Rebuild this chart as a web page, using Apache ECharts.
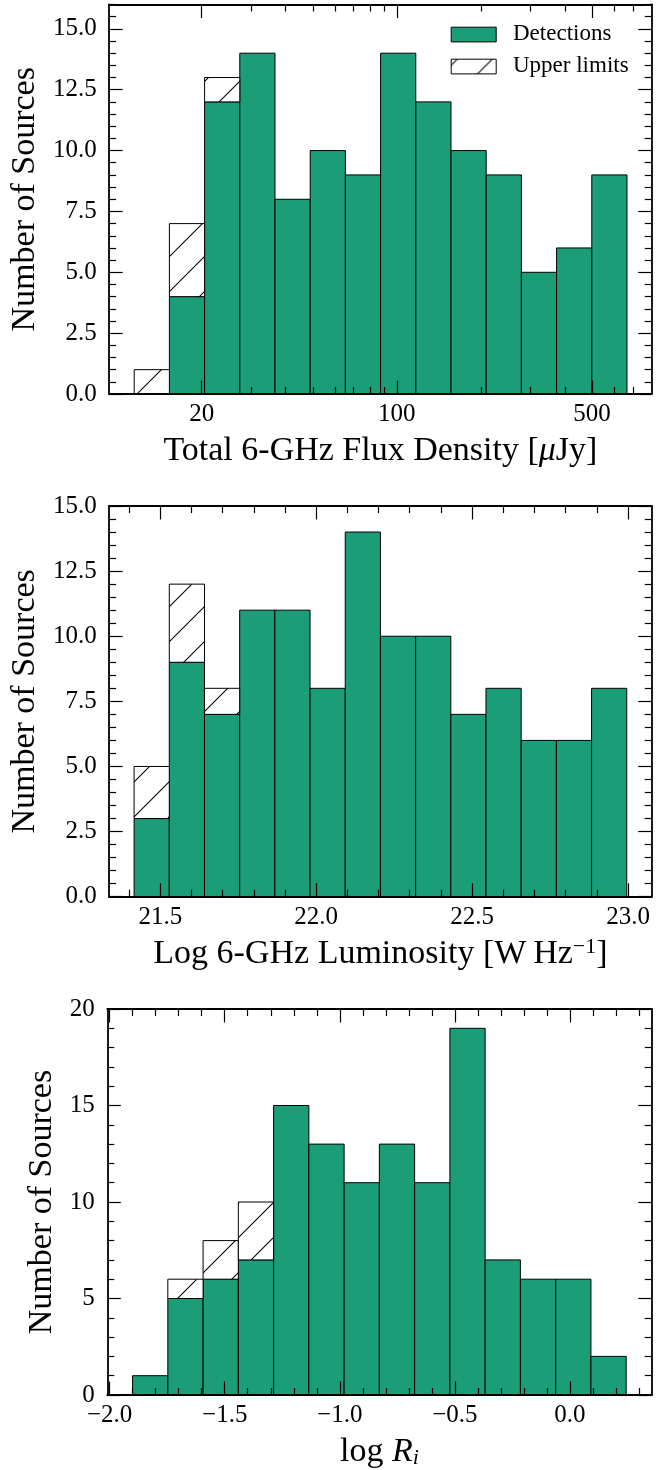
<!DOCTYPE html>
<html>
<head>
<meta charset="utf-8">
<script src="https://cdn.jsdelivr.net/npm/echarts@6/dist/echarts.min.js"></script>
<style>
  html, body { margin: 0; padding: 0; background: #ffffff; }
  #chart { width: 664px; height: 1470px; }
</style>
</head>
<body>
<div id="chart"></div>
<script>
// ---- Histogram counts (14 bins per panel) ----
const fluxDetections   = [0, 4, 12, 14, 8, 10, 9, 14, 12, 10, 9, 5, 6, 9];
const fluxUpperLimits  = [1, 3, 1, 0, 0, 0, 0, 0, 0, 0, 0, 0, 0, 0];
const fluxBinRange     = [11.47, 666.8];          // µJy, log-spaced bins

const lumDetections    = [3, 9, 7, 11, 11, 8, 14, 10, 10, 7, 8, 6, 6, 8];
const lumUpperLimits   = [2, 3, 1, 0, 0, 0, 0, 0, 0, 0, 0, 0, 0, 0];
const lumBinRange      = [21.416, 22.996];        // log W/Hz

const riDetections     = [1, 5, 6, 7, 15, 13, 11, 13, 11, 19, 7, 6, 6, 2];
const riUpperLimits    = [0, 1, 2, 3, 0, 0, 0, 0, 0, 0, 0, 0, 0, 0];
const riBinRange       = [-1.9006, 0.2448];       // log R_i

// ---- Tick labels ----
const fluxTickLabels   = [20, 100, 500];
const fluxMinorTicks   = [30, 40, 50, 60, 70, 80, 90, 200, 300, 400, 600, 700];
const lumTickLabels    = [21.5, 22.0, 22.5, 23.0];
const riTickLabels     = [-2.0, -1.5, -1.0, -0.5, 0.0];
const countTicksA      = [0, 2.5, 5, 7.5, 10, 12.5, 15];
const countTicksB      = [0, 5, 10, 15, 20];

const legendNames      = ['Detections', 'Upper limits'];

const GREEN = '#1b9e77';
const FONT = 'Liberation Serif';
const TICK_FS = 25;
const TITLE_FS = 34;

// "/" hatching tile
function makeHatch(size, phase) {
  const c = document.createElement('canvas');
  c.width = size; c.height = size;
  const g = c.getContext('2d');
  g.fillStyle = '#ffffff';
  g.fillRect(0, 0, size, size);
  g.strokeStyle = '#000000';
  g.lineWidth = 1.1;
  for (let k = -2; k <= 2; k++) {
    const s = phase + k * size;
    g.beginPath();
    g.moveTo(s + 2 * size, -2 * size);
    g.lineTo(s - 2 * size, 2 * size);
    g.stroke();
  }
  return c;
}
const hatchFill = { image: makeHatch(35, 6), repeat: 'repeat' };

function stepValues(from, to, step, exclude) {
  const out = [];
  const n = Math.round((to - from) / step);
  for (let i = 0; i <= n; i++) {
    const v = +(from + i * step).toFixed(6);
    if (!exclude.some(e => Math.abs(e - v) < 1e-6)) out.push(v);
  }
  return out;
}

function linEdges(range, n) {
  const w = (range[1] - range[0]) / n;
  return Array.from({ length: n + 1 }, (_, i) => range[0] + i * w);
}
const log10 = Math.log10;

const fmtMinus = v => (v < 0 ? '\u2212' : '') + Math.abs(v).toFixed(1);

// Panel definitions (x values in axis space; flux panel uses log10 space)
const panels = [
  {
    top: 4.5, height: 389.5,
    xMin: log10(9.33), xMax: log10(817.5),
    edges: linEdges([log10(fluxBinRange[0]), log10(fluxBinRange[1])], fluxDetections.length),
    det: fluxDetections, upp: fluxUpperLimits,
    xMajor: fluxTickLabels.map(log10),
    xMinor: fluxMinorTicks.map(log10),
    xFmt: v => String(Math.round(Math.pow(10, v))),
    yMax: 16, yMajor: countTicksA, yMinor: stepValues(0, 16, 0.5, countTicksA),
    yFmt: v => v.toFixed(1),
    xName: 'Total 6-GHz Flux Density [{it|\u03bc}Jy]',
    yNameGap: 60.5
  },
  {
    top: 506, height: 390.7,
    xMin: 21.336, xMax: 23.076,
    edges: linEdges(lumBinRange, lumDetections.length),
    det: lumDetections, upp: lumUpperLimits,
    xMajor: lumTickLabels,
    xMinor: stepValues(21.4, 23.0, 0.1, lumTickLabels),
    xFmt: v => v.toFixed(1),
    yMax: 15, yMajor: countTicksA, yMinor: stepValues(0, 15, 0.5, countTicksA),
    yFmt: v => v.toFixed(1),
    xName: 'Log 6-GHz Luminosity [W\u2009Hz{sup|\u22121}]',
    yNameGap: 60.5
  },
  {
    top: 1009, height: 389.7,
    xMin: -2.0104, xMax: 0.3557,
    edges: linEdges(riBinRange, riDetections.length),
    det: riDetections, upp: riUpperLimits,
    xMajor: riTickLabels,
    xMinor: stepValues(-2.0, 0.3, 0.1, riTickLabels),
    xFmt: fmtMinus,
    yMax: 20, yMajor: countTicksB, yMinor: stepValues(0, 20, 1, countTicksB),
    yFmt: v => String(Math.round(v)),
    xName: 'log {it|R}{sub|i}',
    yNameGap: 41.5
  }
];

const grids = [], xAxes = [], yAxes = [], series = [];
const tickLine = { color: '#000', width: 1.2 };
const spine = { show: true, onZero: false, lineStyle: { color: '#000', width: 1.8 } };
const noLine = { show: false, onZero: false };
const MAJOR_LEN = 13.5, MINOR_LEN = 7;

const richName = {
  it:  { fontFamily: FONT, fontSize: TITLE_FS, fontStyle: 'italic', color: '#000', lineHeight: 34 },
  sup: { fontFamily: FONT, fontSize: 22, color: '#000', lineHeight: 22, verticalAlign: 'top' },
  sub: { fontFamily: FONT, fontSize: 22, fontStyle: 'italic', color: '#000', lineHeight: 22, verticalAlign: 'bottom' }
};

panels.forEach((p, g) => {
  grids.push({ left: 107.3, right: 12.3, top: p.top, height: p.height, containLabel: false });

  const xBase = { type: 'value', gridIndex: g, min: p.xMin, max: p.xMax, z: 5, splitLine: { show: false } };
  const yBase = { type: 'value', gridIndex: g, min: 0, max: p.yMax, z: 5, splitLine: { show: false } };

  // bottom: spine, major ticks, labels, title
  xAxes.push(Object.assign({}, xBase, {
    position: 'bottom', axisLine: spine,
    axisTick: { show: true, inside: true, length: MAJOR_LEN, lineStyle: tickLine, customValues: p.xMajor },
    axisLabel: { show: true, customValues: p.xMajor, formatter: p.xFmt, fontFamily: FONT, fontSize: TICK_FS, color: '#000', margin: 8 },
    name: p.xName, nameLocation: 'middle', nameGap: 40,
    nameTextStyle: { fontFamily: FONT, fontSize: TITLE_FS, color: '#000', lineHeight: 34, rich: richName }
  }));
  // bottom minor ticks
  xAxes.push(Object.assign({}, xBase, {
    position: 'bottom', axisLine: noLine,
    axisTick: { show: true, inside: true, length: MINOR_LEN, lineStyle: tickLine, customValues: p.xMinor },
    axisLabel: { show: false }
  }));
  // top spine + mirrored ticks
  xAxes.push(Object.assign({}, xBase, {
    position: 'top', axisLine: spine,
    axisTick: { show: true, inside: true, length: MAJOR_LEN, lineStyle: tickLine, customValues: p.xMajor },
    axisLabel: { show: false }
  }));
  xAxes.push(Object.assign({}, xBase, {
    position: 'top', axisLine: noLine,
    axisTick: { show: true, inside: true, length: MINOR_LEN, lineStyle: tickLine, customValues: p.xMinor },
    axisLabel: { show: false }
  }));

  // left: spine, major ticks, labels, title
  yAxes.push(Object.assign({}, yBase, {
    position: 'left', axisLine: spine,
    axisTick: { show: true, inside: true, length: MAJOR_LEN, lineStyle: tickLine, customValues: p.yMajor },
    axisLabel: { show: true, customValues: p.yMajor, formatter: p.yFmt, fontFamily: FONT, fontSize: TICK_FS, color: '#000', margin: 12.5 },
    name: 'Number of Sources', nameLocation: 'middle', nameGap: p.yNameGap,
    nameTextStyle: { fontFamily: FONT, fontSize: TITLE_FS, color: '#000', lineHeight: 34 }
  }));
  yAxes.push(Object.assign({}, yBase, {
    position: 'left', axisLine: noLine,
    axisTick: { show: true, inside: true, length: MINOR_LEN, lineStyle: tickLine, customValues: p.yMinor },
    axisLabel: { show: false }
  }));
  yAxes.push(Object.assign({}, yBase, {
    position: 'right', axisLine: spine,
    axisTick: { show: true, inside: true, length: MAJOR_LEN, lineStyle: tickLine, customValues: p.yMajor },
    axisLabel: { show: false }
  }));
  yAxes.push(Object.assign({}, yBase, {
    position: 'right', axisLine: noLine,
    axisTick: { show: true, inside: true, length: MINOR_LEN, lineStyle: tickLine, customValues: p.yMinor },
    axisLabel: { show: false }
  }));

  const detData = p.det.map((v, i) => [p.edges[i], p.edges[i + 1], 0, v]).filter(d => d[3] > 0);
  const uppData = p.upp.map((v, i) => [p.edges[i], p.edges[i + 1], p.det[i], p.det[i] + v]).filter(d => d[3] > d[2]);

  const mkRender = fill => (params, api) => {
    const a = api.coord([api.value(0), api.value(2)]);
    const b = api.coord([api.value(1), api.value(3)]);
    return {
      type: 'rect',
      shape: { x: a[0], y: b[1], width: b[0] - a[0], height: a[1] - b[1] },
      style: { fill: fill, stroke: '#000', lineWidth: 1 }
    };
  };

  series.push({
    type: 'custom', name: legendNames[0], xAxisIndex: 4 * g, yAxisIndex: 4 * g,
    encode: { x: [0, 1], y: [2, 3] }, data: detData, renderItem: mkRender(GREEN), z: 2, silent: true
  });
  series.push({
    type: 'custom', name: legendNames[1], xAxisIndex: 4 * g, yAxisIndex: 4 * g,
    encode: { x: [0, 1], y: [2, 3] }, data: uppData, renderItem: mkRender(hatchFill), z: 3, silent: true
  });
});

// Legend in the first panel
const legendGraphic = [
  { type: 'rect', left: 450.7, top: 26.7, shape: { width: 45, height: 14.7 },
    style: { fill: GREEN, stroke: '#000', lineWidth: 1 }, z: 10 },
  { type: 'rect', left: 450.7, top: 58.7, shape: { width: 45, height: 14.7 },
    style: { fill: hatchFill, stroke: '#000', lineWidth: 1 }, z: 10 },
  { type: 'text', left: 513, top: 22, z: 10,
    style: { text: legendNames[0], fontFamily: FONT, fontSize: 23, fill: '#000' } },
  { type: 'text', left: 513, top: 54, z: 10,
    style: { text: legendNames[1], fontFamily: FONT, fontSize: 23, fill: '#000' } }
];

const chart = echarts.init(document.getElementById('chart'), null, { renderer: 'canvas', width: 664, height: 1470 });
chart.setOption({
  animation: false,
  backgroundColor: '#ffffff',
  grid: grids,
  xAxis: xAxes,
  yAxis: yAxes,
  series: series,
  graphic: legendGraphic
});
</script>
</body>
</html>
